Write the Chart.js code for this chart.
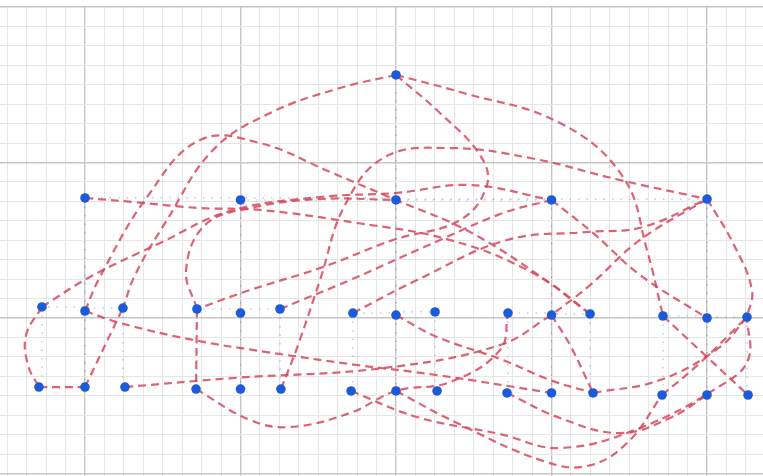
<!DOCTYPE html>
<html>
<head>
<meta charset="utf-8">
<script src="https://cdn.jsdelivr.net/npm/chart.js@4.4.1/dist/chart.umd.min.js"></script>
<style>
  html, body { margin: 0; padding: 0; background: #ffffff; }
  #wrap { width: 763px; height: 476px; }
</style>
</head>
<body>
<div id="wrap"><canvas id="c" width="763" height="476"></canvas></div>
<script>
// ---------------- data ----------------
// tree nodes (blue markers)
const nodeNames = ['T','A0','A1','A2','A3','A4',
  'B0L','B0','B0R','B1L','B1','B1R','B2L','B2','B2R','B3L','B3','B3R','B4L','B4','B4R',
  'C0L','C0','C0R','C1L','C1','C1R','C2L','C2','C2R','C3L','C3','C3R','C4L','C4','C4R'];
const nodeX = [2.0, 0.0, 1.0, 2.0, 3.0, 4.0,
  -0.277, 0.0, 0.244, 0.72, 1.0, 1.254, 1.723, 2.0, 2.251, 2.72, 3.0, 3.248, 3.717, 4.0, 4.257,
  -0.296, 0.0, 0.257, 0.714, 1.0, 1.26, 1.711, 2.0, 2.264, 2.714, 3.0, 3.267, 3.711, 4.0, 4.264];
const nodeY = [1.563, 0.772, 0.759, 0.759, 0.759, 0.765,
  0.071, 0.045, 0.064, 0.058, 0.032, 0.058, 0.032, 0.019, 0.039, 0.032, 0.019, 0.026, 0.013, 0.0, 0.006,
  -0.444, -0.444, -0.444, -0.457, -0.457, -0.457, -0.469, -0.469, -0.469, -0.482, -0.482, -0.482, -0.495, -0.495, -0.495];
// parent of each node (faint dotted tree connectors)
const nodeParent = [null,'T','T','T','T','T',
  'A0','A0','A0','A1','A1','A1','A2','A2','A2','A3','A3','A3','A4','A4','A4',
  'B0L','B0','B0R','B1L','B1','B1R','B2L','B2','B2R','B3L','B3','B3R','B4L','B4','B4R'];

// red dashed links: start node, points the curve passes through, end node
const linkFrom = ['T','T','T','B0','C1R','A4','A4','B0L','C0L','C0','A0','B0L','A3',
  'B1L','B1L','C1L','C2','C2L','C3L','B4L','B4R','C0R','B0','B1R','B2L','B2','C4L','B3'];
const linkTo = ['B0R','B4L','B1L','B3R','A4','B4R','B3','C0L','C0','B0R','B3R','A3','B4',
  'C1L','A2','B3L','C4L','B4R','C4','C4R','C3R','B3','C3','A3','A4','C3R','B4R','C3R'];
const linkVia = [
  [[1.640,1.479],[1.190,1.318],[0.823,1.080],[0.527,0.630],[0.322,0.277]],
  [[2.412,1.453],[3.055,1.254],[3.460,0.907],[3.614,0.437]],
  [[2.283,1.318],[2.540,1.048],[2.585,0.855],[2.412,0.630],[1.981,0.502],[1.531,0.328],[1.061,0.180]],
  [[0.096,0.264],[0.399,0.778],[0.740,1.145],[1.125,1.125],[1.576,0.939],'A2',[2.476,0.553],[2.990,0.225]],
  [[1.370,-0.174],[1.511,0.244],[1.672,0.727],[1.929,1.035],[2.347,1.093],[2.862,1.029],[3.441,0.887]],
  [[4.167,0.482],[4.289,0.180]],
  [[3.569,0.502],[3.248,0.212]],
  [[-0.379,-0.109],[-0.367,-0.302]],
  [],
  [],
  [[0.309,0.746],[0.740,0.707],[1.125,0.695],[1.749,0.611],[2.347,0.502],[2.881,0.289]],
  [[0.032,0.264],[0.482,0.482],[0.932,0.688],[1.511,0.778],[2.0,0.804],[2.476,0.855]],
  [[3.267,0.547],[3.569,0.277]],
  [],
  [[0.650,0.309],[0.772,0.598],[1.061,0.707],[1.511,0.765]],
  [[1.061,-0.656],[1.318,-0.701],[1.704,-0.611],'C2',[2.347,-0.412],[2.669,-0.206]],
  [[2.392,-0.675],[2.945,-0.919],[3.228,-0.952],[3.486,-0.804]],
  [[2.135,-0.637],[2.669,-0.746],[3.055,-0.836],[3.569,-0.707],[4.084,-0.437],[4.264,-0.270]],
  [[3.055,-0.643],[3.441,-0.740],[3.762,-0.643]],
  [[4.0,-0.251]],
  [[4.084,-0.186],[3.698,-0.399]],
  [[0.952,-0.386],[1.916,-0.322],[2.669,-0.174]],
  [[0.225,-0.032],[0.695,-0.141],[1.170,-0.219],[1.749,-0.302],[2.264,-0.367]],
  [[1.704,0.244],[2.283,0.502],[2.688,0.675]],
  [[2.135,0.244],[2.714,0.502],[3.228,0.553],[3.588,0.585]],
  [[2.264,-0.122],[2.688,-0.270],[2.990,-0.399]],
  [[3.955,-0.289]],
  [[3.119,-0.174]]
];
// axis ranges & grid steps
const xRange = [-0.5466, 4.360];
const yRange = [-1.016, 2.0];
const minorStep = 0.125;

// ---------------- build ----------------
const idx = n => nodeNames.indexOf(n);
const pt = n => ({x: nodeX[idx(n)], y: nodeY[idx(n)]});
const nodePoints = nodeNames.map(pt);
const treePts = [];
nodeNames.forEach((n, i) => {
  const p = nodeParent[i];
  if (!p) return;
  const P = pt(p), C = pt(n);
  treePts.push({x: P.x, y: P.y}, {x: P.x, y: C.y}, {x: C.x, y: C.y}, {x: C.x, y: null});
});
const isMajor = v => Math.abs(v - Math.round(v)) < 1e-6;
const gridOpts = {
  drawTicks: false,
  color: ctx => isMajor(ctx.tick.value) ? '#c6c6c6' : '#e6e6e6',
  lineWidth: ctx => isMajor(ctx.tick.value) ? 1.4 : 1
};
const linkSets = linkFrom.map((f, i) => ({
  label: 'link ' + (i + 1),
  data: [pt(f)].concat(linkVia[i].map(v => typeof v === 'string' ? pt(v) : {x: v[0], y: v[1]}), [pt(linkTo[i])]),
  showLine: true, tension: 0.4, borderColor: 'rgba(214,72,92,0.85)', borderWidth: 2.2,
  borderDash: [8, 5], pointRadius: 0, fill: false, order: 2
}));
const bg = { id: 'bg', beforeDraw(c) { const g = c.ctx; g.save(); g.fillStyle = '#fff'; g.fillRect(0, 0, c.width, c.height); g.restore(); } };

new Chart(document.getElementById('c'), {
  type: 'scatter',
  data: {
    datasets: [
      { label: 'tree', data: treePts, showLine: true, spanGaps: false, tension: 0,
        borderColor: 'rgba(80,110,190,0.45)', borderWidth: 1.2, borderDash: [1.5, 7], pointRadius: 0, order: 3 }
    ].concat(linkSets, [
      { label: 'nodes', data: nodePoints, pointRadius: 4.8, pointBackgroundColor: '#1b5ad8',
        pointBorderColor: '#1b5ad8', pointBorderWidth: 0, showLine: false, order: 1 }
    ])
  },
  options: {
    responsive: false, animation: false, devicePixelRatio: 1,
    layout: { autoPadding: false, padding: { top: 7, left: 0, right: 0, bottom: 0 } },
    plugins: { legend: { display: false }, tooltip: { enabled: false } },
    scales: {
      x: { type: 'linear', min: xRange[0], max: xRange[1],
           ticks: { display: false, stepSize: minorStep, includeBounds: false },
           grid: gridOpts, border: { display: false } },
      y: { type: 'linear', min: yRange[0], max: yRange[1],
           ticks: { display: false, stepSize: minorStep, includeBounds: false },
           grid: gridOpts, border: { display: false } }
    }
  },
  plugins: [bg]
});
</script>
</body>
</html>
